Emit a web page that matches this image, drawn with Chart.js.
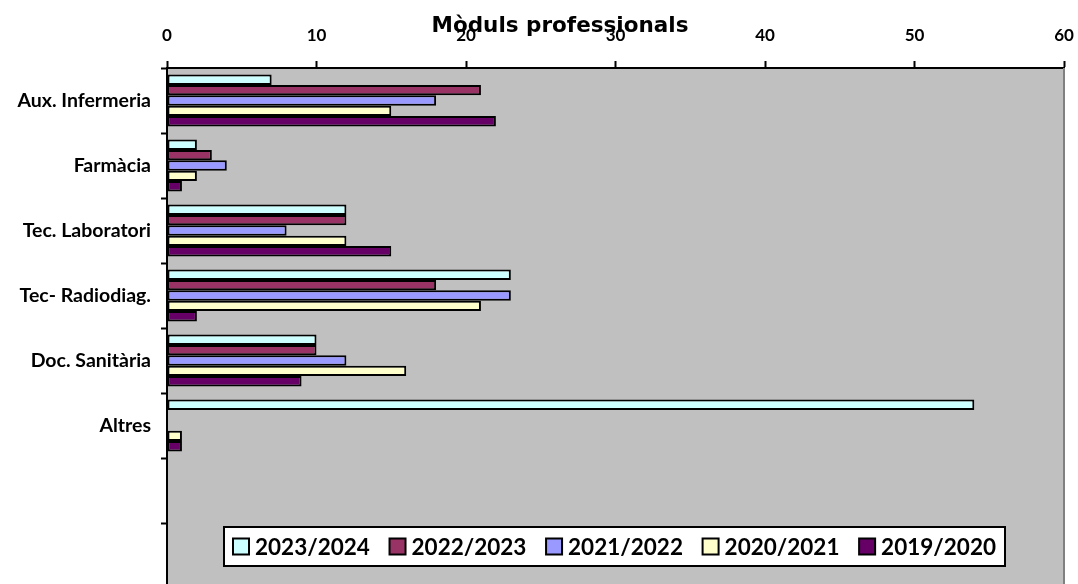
<!DOCTYPE html>
<html>
<head>
<meta charset="utf-8">
<script src="https://cdn.jsdelivr.net/npm/chart.js@4.4.0/dist/chart.umd.min.js"></script>
<style>
  html, body { margin: 0; padding: 0; background: #ffffff; overflow: hidden; }
  canvas { display: block; }
</style>
</head>
<body>
<canvas id="c" width="1078" height="588" style="width:1078px;height:588px"></canvas>
<script>
const categories = ['Aux. Infermeria', 'Farmàcia', 'Tec. Laboratori', 'Tec- Radiodiag.', 'Doc. Sanitària', 'Altres', '', ''];
const seriesNames = ['2023/2024', '2022/2023', '2021/2022', '2020/2021', '2019/2020'];
const v2023_2024 = [7, 2, 12, 23, 10, 54, null, null];
const v2022_2023 = [21, 3, 12, 18, 10, null, null, null];
const v2021_2022 = [18, 4, 8, 23, 12, null, null, null];
const v2020_2021 = [15, 2, 12, 21, 16, 1, null, null];
const v2019_2020 = [22, 1, 15, 2, 9, 1, null, null];
const xTicks = [0, 10, 20, 30, 40, 50, 60];
const chartTitle = 'Mòduls professionals';

const colors = ['#CCFFFF', '#993366', '#9999FF', '#FFFFCC', '#660066'];
const values = [v2023_2024, v2022_2023, v2021_2022, v2020_2021, v2019_2020];

const FONT = 'Lato, "Open Sans", sans-serif';
const TITLE_FONT = '"DejaVu Sans", Verdana, sans-serif';

const plotBg = {
  id: 'plotBg',
  beforeDraw(chart) {
    const { ctx, chartArea: a } = chart;
    ctx.save();
    ctx.fillStyle = '#C0C0C0';
    ctx.fillRect(a.left, a.top, a.right - a.left, a.bottom - a.top);
    ctx.restore();
  },
  afterDatasetsDraw(chart) {
    const { ctx, chartArea: a } = chart;
    ctx.save();
    ctx.strokeStyle = '#808080';
    ctx.lineWidth = 2;
    ctx.beginPath();
    ctx.moveTo(a.right, a.top);
    ctx.lineTo(a.right, a.bottom);
    ctx.stroke();
    ctx.restore();
  }
};

const titleAndLegend = {
  id: 'titleAndLegend',
  afterDraw(chart) {
    const ctx = chart.ctx;
    ctx.save();
    // title
    ctx.font = 'bold 21.5px ' + TITLE_FONT;
    ctx.fillStyle = '#000';
    ctx.textAlign = 'center';
    ctx.textBaseline = 'alphabetic';
    ctx.fillText(chartTitle, 560, 32);

    // legend box
    const bx = 224, by = 527, bw = 781, bh = 39;
    ctx.fillStyle = '#ffffff';
    ctx.fillRect(bx, by, bw, bh);
    ctx.strokeStyle = '#000';
    ctx.lineWidth = 2;
    ctx.strokeRect(bx, by, bw, bh);

    ctx.font = 'bold 22.5px ' + FONT;
    const ds = chart.data.datasets;
    const sq = 16, gapT = 6, pad = 9;
    const widths = ds.map(d => ctx.measureText(d.label).width);
    const itemsW = widths.reduce((s, w) => s + sq + gapT + w, 0);
    const gap = (bw - 2 * pad - itemsW) / (ds.length - 1);
    let x = bx + pad;
    const cy = by + bh / 2;
    ctx.textAlign = 'left';
    ctx.textBaseline = 'middle';
    ds.forEach((d, i) => {
      ctx.fillStyle = d.backgroundColor;
      ctx.fillRect(x, cy - sq / 2, sq, sq);
      ctx.lineWidth = 2;
      ctx.strokeStyle = '#000';
      ctx.strokeRect(x, cy - sq / 2, sq, sq);
      ctx.fillStyle = '#000';
      ctx.fillText(d.label, x + sq + gapT, cy + 1);
      x += sq + gapT + widths[i] + gap;
    });
    ctx.restore();
  }
};

function zeroPadding(scale) {
  scale.paddingLeft = 0;
  scale.paddingRight = 0;
  scale.paddingTop = 0;
  scale.paddingBottom = 0;
}

function draw() {
  new Chart(document.getElementById('c'), {
    type: 'bar',
    data: {
      labels: categories,
      datasets: seriesNames.map((n, i) => ({
        label: n,
        data: values[i],
        backgroundColor: colors[i],
        borderColor: '#000000',
        borderWidth: 2,
        borderSkipped: false,
        categoryPercentage: 0.8,
        barPercentage: 1.0
      }))
    },
    options: {
      indexAxis: 'y',
      responsive: false,
      animation: false,
      devicePixelRatio: 1,
      layout: { padding: { top: 0, right: 14, bottom: 0, left: 0 } },
      plugins: {
        legend: { display: false },
        title: { display: false },
        tooltip: { enabled: false }
      },
      scales: {
        x: {
          position: 'top',
          min: 0,
          max: 60,
          afterBuildTicks(scale) { scale.ticks = xTicks.map(v => ({ value: v })); },
          afterFit(scale) { scale.height = 68; zeroPadding(scale); },
          ticks: {
            color: '#000',
            font: { family: FONT, size: 17, weight: 'bold' },
            padding: 15,
            maxRotation: 0
          },
          grid: {
            drawOnChartArea: false,
            tickLength: 7,
            tickWidth: 2,
            tickColor: '#000'
          },
          border: { color: '#000', width: 2 }
        },
        y: {
          afterFit(scale) { scale.width = 167; zeroPadding(scale); },
          ticks: {
            color: '#000',
            font: { family: FONT, size: 19.5, weight: 'bold' },
            padding: 10
          },
          grid: {
            drawOnChartArea: false,
            tickLength: 6,
            tickWidth: 2,
            tickColor: '#000',
            offset: true
          },
          border: { color: '#000', width: 2 }
        }
      }
    },
    plugins: [plotBg, titleAndLegend]
  });
}

if (document.fonts && document.fonts.load) {
  Promise.all([
    document.fonts.load('bold 16px Lato'),
    document.fonts.load('bold 22px "DejaVu Sans"')
  ]).then(draw, draw);
} else {
  draw();
}
</script>
</body>
</html>
